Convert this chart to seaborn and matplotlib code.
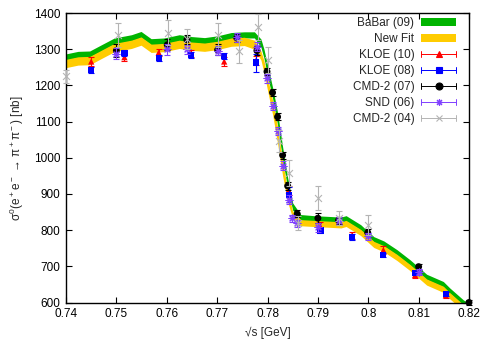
import numpy as np
import pandas as pd
import matplotlib
matplotlib.use("Agg")
import matplotlib.pyplot as plt
import seaborn as sns
from matplotlib.lines import Line2D
from matplotlib.patches import Patch
from matplotlib.legend_handler import HandlerBase
from matplotlib.ticker import FuncFormatter

# ---------------- data ----------------
x_band = [0.7400, 0.7424, 0.7447, 0.7470, 0.7496, 0.7530, 0.7549, 0.7569, 0.7595, 0.7625,
          0.7648, 0.7675, 0.7701, 0.7728, 0.7754, 0.7774, 0.7787, 0.7793, 0.7801, 0.7810,
          0.7820, 0.7830, 0.7840, 0.7850, 0.7866, 0.7892, 0.7920, 0.7946, 0.7956, 0.7985,
          0.8011, 0.8031, 0.8057, 0.8083, 0.8116, 0.8149, 0.8162, 0.8189, 0.8200]
babar_hi = [1287, 1294, 1295, 1312, 1331, 1340, 1349, 1329, 1331, 1340,
            1335, 1332, 1337, 1346, 1348, 1348, 1328, 1300, 1250, 1195,
            1125, 1030, 945, 875, 843, 840, 838, 836, 840, 815,
            782, 770, 746, 718, 678, 658, 640, 607, 598]
babar_lo = [1270, 1277, 1278, 1295, 1314, 1323, 1332, 1312, 1314, 1323,
            1318, 1315, 1320, 1329, 1331, 1331, 1305, 1275, 1220, 1165,
            1090, 995, 915, 855, 827, 825, 823, 821, 825, 800,
            767, 755, 731, 703, 663, 643, 625, 592, 585]
fit_hi = [1272, 1279, 1280, 1297, 1316, 1325, 1334, 1314, 1316, 1325,
          1320, 1317, 1322, 1331, 1333, 1325, 1295, 1268, 1215, 1160,
          1085, 990, 910, 852, 829, 827, 825, 823, 827, 802,
          769, 757, 733, 705, 665, 645, 627, 594, 587]
fit_lo = [1249, 1256, 1257, 1274, 1293, 1302, 1311, 1291, 1293, 1302,
          1297, 1294, 1299, 1308, 1310, 1300, 1270, 1235, 1180, 1120,
          1040, 950, 878, 832, 812, 810, 808, 806, 810, 785,
          752, 740, 716, 688, 648, 628, 610, 577, 570]

kloe10_x = [0.7450, 0.7516, 0.7584, 0.7648, 0.7714, 0.7777, 0.7842, 0.7905, 0.7968, 0.8030, 0.8093, 0.8154]
kloe10_y = [1266, 1278, 1291, 1288, 1266, 1268, 910, 810, 786, 745, 676, 620]
kloe10_e = [12, 12, 10, 10, 12, 12, 12, 12, 10, 10, 8, 8]

kloe08_x = [0.7450, 0.7516, 0.7584, 0.7648, 0.7714, 0.7777, 0.7842, 0.7905, 0.7968, 0.8030, 0.8093, 0.8154]
kloe08_y = [1243, 1289, 1275, 1284, 1281, 1263, 898, 799, 782, 731, 682, 623]
kloe08_e = [8, 8, 8, 8, 8, 25, 20, 8, 8, 6, 6, 6]

cmd07_x = [0.7500, 0.7601, 0.7640, 0.7701, 0.7739, 0.7779, 0.7799, 0.7810, 0.7820, 0.7830,
           0.7840, 0.7859, 0.7900, 0.7941, 0.7999, 0.8100, 0.8200]
cmd07_y = [1296, 1312, 1326, 1298, 1331, 1296, 1238, 1180, 1113, 1007, 922, 845, 833, 827, 793, 699, 600]
cmd07_e = [17, 15, 12, 15, 12, 12, 10, 10, 10, 10, 10, 10, 13, 10, 10, 8, 8]

snd_x = [0.7500, 0.7601, 0.7640, 0.7701, 0.7739, 0.7779, 0.7799, 0.7810, 0.7820, 0.7830,
         0.7842, 0.7849, 0.7859, 0.7900, 0.7941, 0.7999, 0.8100]
snd_y = [1287, 1300, 1300, 1296, 1333, 1307, 1219, 1143, 1074, 978, 884, 833, 819, 808, 825, 783, 685]
snd_e = [15, 15, 12, 12, 12, 12, 12, 12, 12, 12, 12, 10, 10, 12, 10, 10, 8]

cmd04_x = [0.7400, 0.7503, 0.7602, 0.7640, 0.7701, 0.7744, 0.7782, 0.7800, 0.7823, 0.7842,
           0.7860, 0.7900, 0.7941, 0.7999]
cmd04_y = [1225, 1340, 1346, 1328, 1340, 1294, 1361, 1270, 1046, 958, 819, 889, 833, 815]
cmd04_e = [18, 33, 35, 28, 33, 31, 35, 35, 30, 35, 20, 34, 20, 28]

x_ticks = [0.74, 0.75, 0.76, 0.77, 0.78, 0.79, 0.80, 0.81, 0.82]
y_ticks = [600, 700, 800, 900, 1000, 1100, 1200, 1300, 1400]

# ---------------- style ----------------
sns.set_theme(style="ticks")
plt.rcParams['font.family'] = ['Liberation Sans', 'DejaVu Sans']
plt.rcParams['mathtext.fontset'] = 'custom'
plt.rcParams['mathtext.rm'] = 'Liberation Sans'
FS = 8.5

fig = plt.figure(figsize=(4.91, 3.42), dpi=100)
ax = fig.add_axes([66/491, 1 - 302.5/342, 403/491, 289.5/342])

GREEN = '#00b400'
YELLOW = '#ffcc00'

ax.fill_between(x_band, babar_lo, babar_hi, color=GREEN, lw=0, zorder=1)
ax.fill_between(x_band, fit_lo, fit_hi, color=YELLOW, lw=0, zorder=2)

series = [
    ("KLOE (10)", kloe10_x, kloe10_y, kloe10_e, '#ff0000', '^', 4.5),
    ("KLOE (08)", kloe08_x, kloe08_y, kloe08_e, '#0000ff', 's', 4.5),
    ("CMD-2 (07)", cmd07_x, cmd07_y, cmd07_e, '#000000', 'o', 5.0),
    ("SND (06)", snd_x, snd_y, snd_e, '#8040ff', (8, 2, 0), 5.0),
    ("CMD-2 (04)", cmd04_x, cmd04_y, cmd04_e, '#b4b4b4', 'x', 5.0),
]
LINE_MARKERS = ('x', (8, 2, 0))

z = 3
for name, xs, ys, es, col, mk, ms in series:
    ax.errorbar(xs, ys, yerr=es, fmt='none', ecolor=col, elinewidth=0.8,
                capsize=2, capthick=0.8, zorder=z, clip_on=False)
    df = pd.DataFrame({'x': xs, 'y': ys})
    is_line = mk in LINE_MARKERS
    sns.scatterplot(data=df, x='x', y='y', ax=ax, color=col, marker=mk,
                    s=ms**2, linewidth=0.8 if is_line else 0,
                    edgecolor=col if is_line else 'none',
                    zorder=z + 0.5, legend=False, clip_on=False)
    z += 1

ax.set_xlim(0.74, 0.82)
ax.set_ylim(600, 1400)
ax.set_xticks(x_ticks)
ax.set_yticks(y_ticks)
ax.xaxis.set_major_formatter(FuncFormatter(lambda v, p: '%g' % round(v, 3)))
ax.tick_params(direction='in', top=True, right=True, length=4, width=0.8,
               labelsize=FS, colors='black', pad=4)
for s in ax.spines.values():
    s.set_linewidth(1.0)
    s.set_color('black')

ax.set_xlabel('√s [GeV]', fontsize=FS, labelpad=5)
ax.set_ylabel(r'σ$^0$(e$^+$e$^-$ → π$^+$π$^-$) [nb]', fontsize=FS, labelpad=6)


class HandlerErrH(HandlerBase):
    def create_artists(self, legend, orig_handle, xdescent, ydescent, width, height,
                       fontsize, trans):
        col = orig_handle.get_color()
        y = height / 2 - ydescent
        x0 = -xdescent
        x1 = -xdescent + width
        c = 2.2
        mk = orig_handle.get_marker()
        arts = [
            Line2D([x0, x1], [y, y], color=col, lw=0.7),
            Line2D([x0, x0], [y - c, y + c], color=col, lw=0.7),
            Line2D([x1, x1], [y - c, y + c], color=col, lw=0.7),
            Line2D([(x0 + x1) / 2], [y], marker=mk, color=col,
                   markersize=orig_handle.get_markersize(),
                   mew=0.8, linestyle='none'),
        ]
        for a in arts:
            a.set_transform(trans)
        return arts


handles = [Patch(color=GREEN, lw=0), Patch(color=YELLOW, lw=0)]
labels = ["BaBar (09)", "New Fit"]
hmap = {}
for name, xs, ys, es, col, mk, ms in series:
    h = Line2D([], [], color=col, marker=mk, markersize=ms)
    handles.append(h)
    labels.append(name)
    hmap[h] = HandlerErrH()

leg = ax.legend(handles, labels, handler_map=hmap, loc='upper right',
                bbox_to_anchor=(0.967, 0.985), frameon=False, markerfirst=False,
                fontsize=FS, handlelength=2.9, handleheight=0.65, handletextpad=0.6,
                labelspacing=0.33, borderpad=0, borderaxespad=0)
leg.set_zorder(20)

fig.savefig('out.png', dpi=100)
